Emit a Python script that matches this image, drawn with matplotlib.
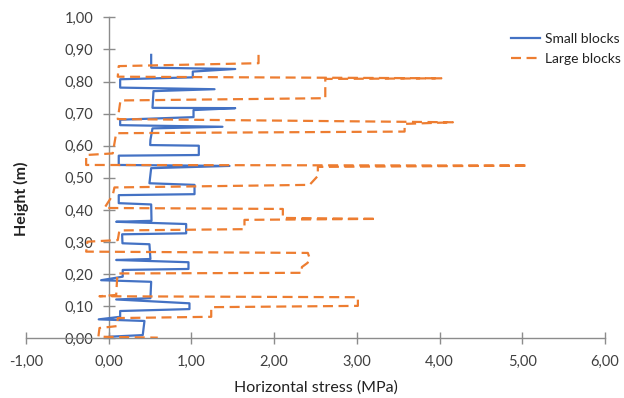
import matplotlib.pyplot as plt
from matplotlib.ticker import FuncFormatter, MultipleLocator

plt.rcParams['font.family'] = ['Lato', 'DejaVu Sans']

# stress (MPa) vs height (m), traced top -> bottom
small_x = [0.513, 0.513, 1.529, 1.016, 1.016, 0.138, 0.138, 1.279, 0.541, 0.529,
           1.529, 1.025, 1.025, 0.138, 0.138, 1.375, 0.529, 0.504, 0.501, 1.089,
           1.089, 0.121, 0.121, 1.460, 0.513, 0.492, 1.037, 1.037, 0.121, 0.121,
           0.513, 0.517, 0.090, 0.936, 0.936, 0.162, 0.166, 0.492, 0.504, 0.090,
           0.964, 0.964, 0.169, 0.169, -0.092, 0.513, 0.504, 0.090, 0.976, 0.976,
           0.138, 0.138, -0.121, 0.432, 0.411, 0.010]
small_y = [0.883, 0.843, 0.839, 0.831, 0.813, 0.807, 0.781, 0.776, 0.770, 0.718,
           0.717, 0.711, 0.689, 0.681, 0.664, 0.659, 0.654, 0.618, 0.602, 0.600,
           0.571, 0.569, 0.540, 0.537, 0.530, 0.483, 0.478, 0.449, 0.446, 0.421,
           0.417, 0.366, 0.363, 0.356, 0.327, 0.324, 0.296, 0.293, 0.247, 0.244,
           0.237, 0.216, 0.213, 0.192, 0.181, 0.176, 0.125, 0.121, 0.109, 0.091,
           0.085, 0.067, 0.059, 0.054, 0.010, 0.005]

large_x = [1.811, 1.811, 0.121, 0.109, 4.021, 2.618, 2.618, 0.142, 0.109, 4.161,
           3.577, 3.577, 0.090, 0.048, -0.273, -0.273, 5.068, 2.528, 2.528, 2.428,
           0.069, 0.048, -0.052, 2.105, 2.105, 3.235, 1.641, 1.641, 0.129, 0.109,
           -0.258, -0.273, 2.407, 2.428, 2.404, 2.335, 2.335, 0.105, 0.090, -0.112,
           3.012, 3.012, 1.239, 1.239, 0.109, 0.099, -0.112, -0.125, 0.593]
large_y = [0.883, 0.857, 0.848, 0.815, 0.810, 0.808, 0.748, 0.741, 0.683, 0.673,
           0.668, 0.644, 0.639, 0.576, 0.571, 0.540, 0.538, 0.534, 0.506, 0.478,
           0.470, 0.446, 0.406, 0.403, 0.375, 0.372, 0.369, 0.340, 0.336, 0.306,
           0.301, 0.270, 0.266, 0.250, 0.235, 0.222, 0.204, 0.202, 0.135, 0.131,
           0.128, 0.101, 0.097, 0.067, 0.063, 0.038, 0.032, 0.005, 0.002]

fig = plt.figure(figsize=(6.24, 3.98), dpi=100)
ax = fig.add_axes([0.0417, 0.150, 0.9279, 0.8065])

ax.plot(small_x, small_y, color='#4472C4', lw=1.6, label='Small blocks', zorder=3)
ax.plot(large_x, large_y, color='#ED7D31', lw=1.6, dashes=(4.5, 2.5),
        label='Large blocks', zorder=4)

ax.set_xlim(-1, 6)
ax.set_ylim(0, 1)
ax.xaxis.set_major_locator(MultipleLocator(1))
ax.yaxis.set_major_locator(MultipleLocator(0.1))
fmt = FuncFormatter(lambda v, p: f'{v:.2f}'.replace('.', ','))
ax.xaxis.set_major_formatter(fmt)
ax.yaxis.set_major_formatter(fmt)

for s in ['top', 'right']:
    ax.spines[s].set_visible(False)
ax.spines['left'].set_position(('data', 0))
for s in ['left', 'bottom']:
    ax.spines[s].set_color('#8c8c8c')
    ax.spines[s].set_linewidth(1.0)
ax.tick_params(axis='both', direction='inout', length=8, width=1.0,
               color='#8c8c8c', labelsize=10.5, labelcolor='#404040')
ax.tick_params(axis='x', pad=8)
ax.tick_params(axis='y', pad=7)

ax.set_xlabel('Horizontal stress (MPa)', fontsize=11.5, color='#222222', labelpad=8)
ax.set_ylabel('Height (m)', fontsize=11.5, color='#222222', fontweight='bold')
fig.canvas.draw()
ax.yaxis.set_label_coords(29 / 624, 0.5, transform=fig.transFigure)

leg = fig.legend(loc='upper left', bbox_to_anchor=(0.807, 0.935), frameon=False,
                 fontsize=10, handlelength=2.1, labelspacing=0.6, borderpad=0,
                 handletextpad=0.35)
for t in leg.get_texts():
    t.set_color('#222222')

fig.savefig('out.png', dpi=100)
